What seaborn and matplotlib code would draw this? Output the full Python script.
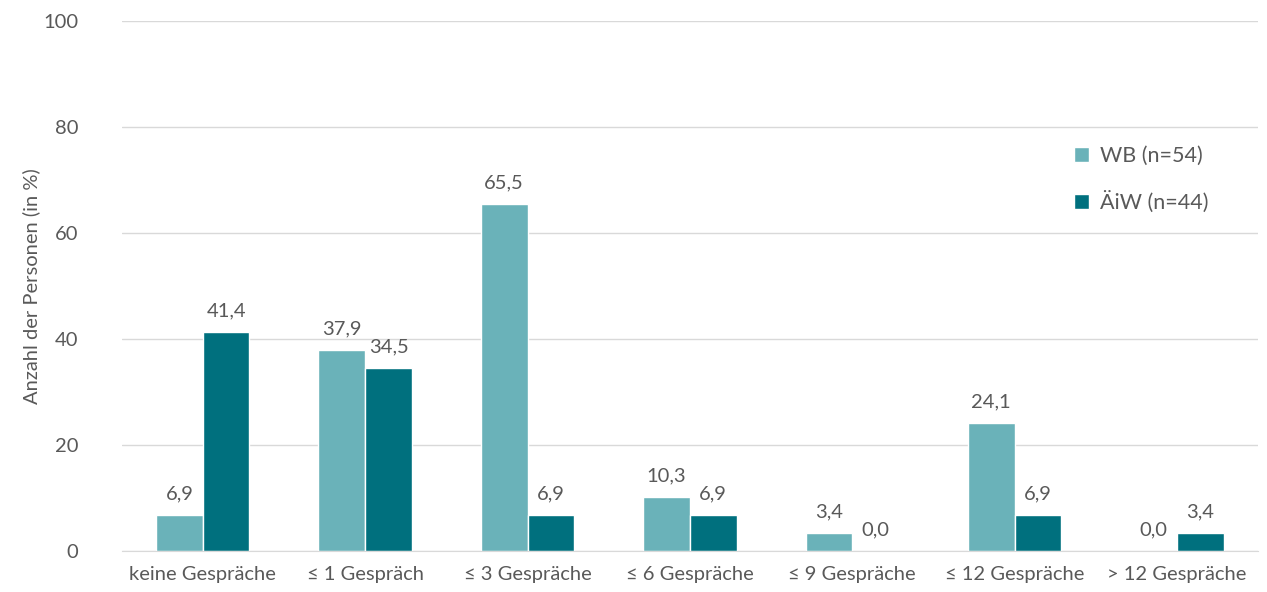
import matplotlib
matplotlib.use("Agg")
import matplotlib.pyplot as plt
import pandas as pd
import seaborn as sns

categories = ["keine Gespräche", "≤ 1 Gespräch", "≤ 3 Gespräche", "≤ 6 Gespräche",
              "≤ 9 Gespräche", "≤ 12 Gespräche", "> 12 Gespräche"]
wb_values = [6.9, 37.9, 65.5, 10.3, 3.4, 24.1, 0.0]
aiw_values = [41.4, 34.5, 6.9, 6.9, 0.0, 6.9, 3.4]
groups = ["WB (n=54)", "ÄiW (n=44)"]
colors = ["#6AB2B9", "#00707E"]

df = pd.DataFrame({
    "kategorie": categories * 2,
    "wert": wb_values + aiw_values,
    "gruppe": [groups[0]] * len(categories) + [groups[1]] * len(categories),
})

sns.set_style("white")
plt.rcParams["font.family"] = ["Lato", "DejaVu Sans"]
text_col = "#595959"
fs = 14.5

fig = plt.figure(figsize=(12.67, 5.92), dpi=100)
ax = fig.add_axes([0.096, 0.069, 0.897, 0.896])
sns.barplot(data=df, x="kategorie", y="wert", hue="gruppe", palette=colors,
            width=0.575, saturation=1, ax=ax, zorder=3)

for cont in ax.containers:
    ax.bar_label(cont, labels=[f"{v:.1f}".replace(".", ",") for v in cont.datavalues],
                 padding=9, fontsize=fs, color=text_col)

ax.set_ylim(0, 100)
ax.set_yticks(range(0, 101, 20))
ax.set_xlim(-0.5, len(categories) - 0.5)
ax.yaxis.grid(True, color="#D9D9D9", lw=1, zorder=0)
ax.set_axisbelow(True)
for s in ["top", "right", "left"]:
    ax.spines[s].set_visible(False)
ax.spines["bottom"].set_color("#D9D9D9")
ax.spines["bottom"].set_zorder(4)
ax.tick_params(axis="both", length=0, labelsize=fs, colors=text_col)
ax.tick_params(axis="x", pad=11)
ax.tick_params(axis="y", pad=31)
ax.set_xlabel("")
ax.set_ylabel("Anzahl der Personen (in %)", fontsize=fs, color=text_col)
ax.yaxis.set_label_coords(-0.072, 0.5)

leg = ax.legend(loc="upper left", bbox_to_anchor=(0.821, 0.8), frameon=False,
                fontsize=fs + 1, handlelength=0.7, handleheight=0.7, handletextpad=0.5,
                labelspacing=1.15)
for t in leg.get_texts():
    t.set_color(text_col)

fig.savefig("out.png", dpi=100)
